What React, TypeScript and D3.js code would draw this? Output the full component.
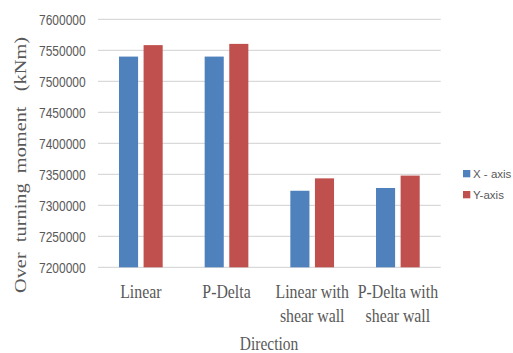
import React from "react";
import * as d3 from "d3";

const categories: string[][] = [
  ["Linear"],
  ["P-Delta"],
  ["Linear with", "shear wall"],
  ["P-Delta with", "shear wall"],
];
const seriesNames = ["X - axis", "Y-axis"];
const xAxisValues = [7540000, 7540000, 7323500, 7328000];
const yAxisValues = [7558500, 7560500, 7343500, 7348000];
const yTicks = [7200000, 7250000, 7300000, 7350000, 7400000, 7450000, 7500000, 7550000, 7600000];
const colors = ["#4F81BD", "#C0504D"];

const W = 513;
const H = 353;
const plot = { left: 98, right: 440.7, top: 19.4, bottom: 267.3 };

export default function App() {
  const series = [xAxisValues, yAxisValues];
  const x0 = d3
    .scaleBand<number>()
    .domain(categories.map((_, i) => i))
    .range([plot.left, plot.right])
    .paddingInner(0.49)
    .paddingOuter(0.245);
  const x1 = d3
    .scaleBand<number>()
    .domain([0, 1])
    .range([0, x0.bandwidth()])
    .paddingInner(0.224);
  const y = d3.scaleLinear().domain([7200000, 7600000]).range([plot.bottom, plot.top]);
  const fmt = d3.format("d");

  return (
    <svg
      width={W}
      height={H}
      style={{ position: "absolute", left: 0, top: 0, background: "#fff" }}
    >
      {yTicks.map((t) => (
        <line
          key={"g" + t}
          x1={plot.left}
          x2={plot.right}
          y1={y(t)}
          y2={y(t)}
          stroke="#D9D9D9"
          strokeWidth={1.2}
        />
      ))}
      {yTicks.map((t) => (
        <text
          key={"t" + t}
          transform={`translate(85.7, ${y(t) + 5.5}) scale(0.8, 1)`}
          textAnchor="end"
          fontFamily="'Liberation Sans', Arial, sans-serif"
          fontSize={15}
          fill="#595959"
        >
          {fmt(t)}
        </text>
      ))}
      {series.map((vals, s) =>
        vals.map((v, i) => (
          <rect
            key={`b${s}-${i}`}
            x={(x0(i) as number) + (x1(s) as number)}
            y={y(v)}
            width={x1.bandwidth()}
            height={plot.bottom - y(v)}
            fill={colors[s]}
          />
        ))
      )}
      {categories.map((lines, i) =>
        lines.map((ln, j) => (
          <text
            key={`c${i}-${j}`}
            transform={`translate(${(x0(i) as number) + x0.bandwidth() / 2}, ${298 + j * 23.5}) scale(0.88, 1)`}
            textAnchor="middle"
            fontFamily="'Liberation Serif', 'Times New Roman', serif"
            fontSize={18}
            fill="#595959"
          >
            {ln}
          </text>
        ))
      )}
      <text
        transform={`translate(269, 350) scale(0.86, 1)`}
        textAnchor="middle"
        fontFamily="'Liberation Serif', 'Times New Roman', serif"
        fontSize={18}
        fill="#595959"
      >
        Direction
      </text>
      <text
        transform={`translate(26, 293) rotate(-90)`}
        x={0}
        y={0}
        textLength={256}
        lengthAdjust="spacingAndGlyphs"
        fontFamily="'Liberation Serif', 'Times New Roman', serif"
        fontSize={16}
        fill="#595959"
        style={{ whiteSpace: "pre" }}
      >
        {"Over  turning  moment   (kNm)"}
      </text>
      {seriesNames.map((name, s) => (
        <g key={"l" + s} transform={`translate(463, ${170 + s * 21})`}>
          <rect x={0} y={0} width={7.3} height={7.3} fill={colors[s]} />
          <text
            x={10}
            y={8.3}
            fontFamily="'Liberation Sans', Arial, sans-serif"
            fontSize={11.5}
            fill="#595959"
          >
            {name}
          </text>
        </g>
      ))}
    </svg>
  );
}
